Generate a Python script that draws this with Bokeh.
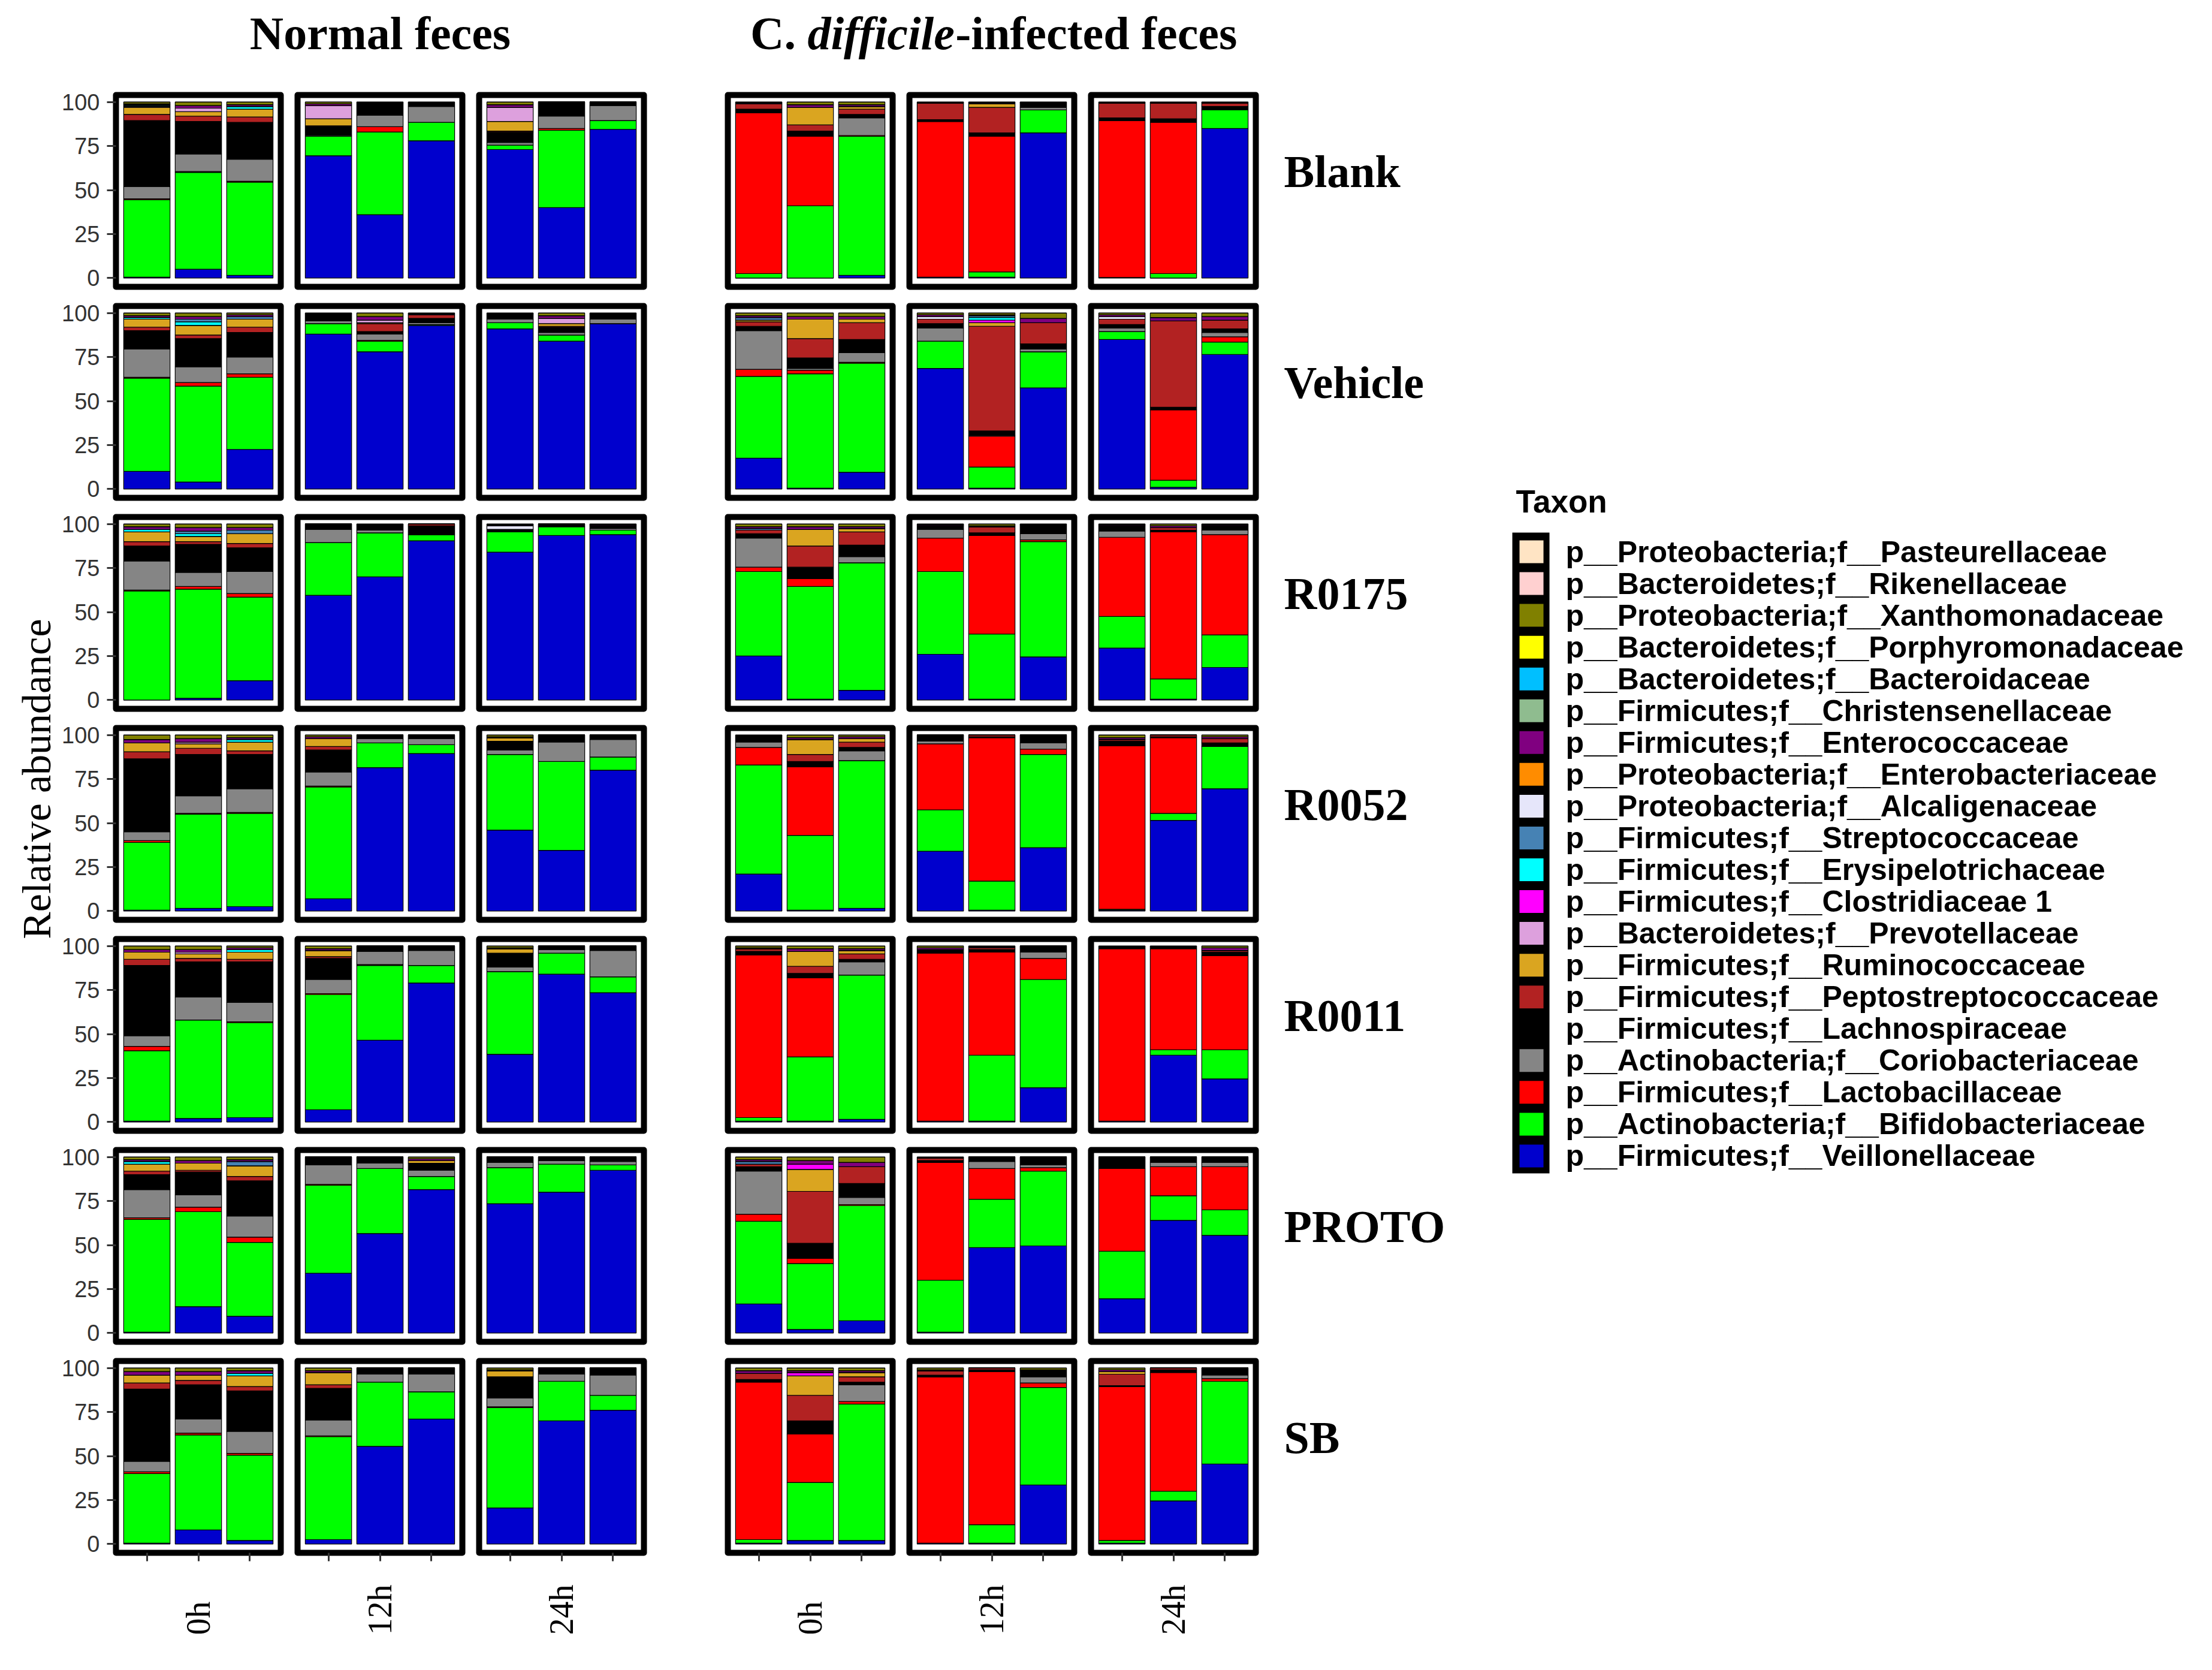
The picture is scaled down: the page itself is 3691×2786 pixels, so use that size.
import math
from bokeh.plotting import figure
from bokeh.layouts import row, column
from bokeh.models import ColumnDataSource, Range1d, FixedTicker, Spacer
from bokeh.embed import file_html
from bokeh.resources import INLINE
from bokeh.core.properties import value

# ---------------- labels ----------------
treatments = ["Blank", "Vehicle", "R0175", "R0052", "R0011", "PROTO", "SB"]
time_labels = ["0h", "12h", "24h"]
title_normal = "Normal feces"
title_cd_parts = ["C. ", "difficile", "-infected feces"]
y_title = "Relative abundance"
legend_title = "Taxon"
y_ticks = [0, 25, 50, 75, 100]

taxa = [
    "p__Proteobacteria;f__Pasteurellaceae",
    "p__Bacteroidetes;f__Rikenellaceae",
    "p__Proteobacteria;f__Xanthomonadaceae",
    "p__Bacteroidetes;f__Porphyromonadaceae",
    "p__Bacteroidetes;f__Bacteroidaceae",
    "p__Firmicutes;f__Christensenellaceae",
    "p__Firmicutes;f__Enterococcaceae",
    "p__Proteobacteria;f__Enterobacteriaceae",
    "p__Proteobacteria;f__Alcaligenaceae",
    "p__Firmicutes;f__Streptococcaceae",
    "p__Firmicutes;f__Erysipelotrichaceae",
    "p__Firmicutes;f__Clostridiaceae 1",
    "p__Bacteroidetes;f__Prevotellaceae",
    "p__Firmicutes;f__Ruminococcaceae",
    "p__Firmicutes;f__Peptostreptococcaceae",
    "p__Firmicutes;f__Lachnospiraceae",
    "p__Actinobacteria;f__Coriobacteriaceae",
    "p__Firmicutes;f__Lactobacillaceae",
    "p__Actinobacteria;f__Bifidobacteriaceae",
    "p__Firmicutes;f__Veillonellaceae",
]
taxa_colors = [
    "#FFE4C4", "#FFD0D0", "#808000", "#FFFF00", "#00BFFF",
    "#8FBC8F", "#800080", "#FF8C00", "#E6E6FA", "#4682B4",
    "#00FFFF", "#FF00FF", "#DDA0DD", "#DAA520", "#B22222",
    "#000000", "#858585", "#FF0000", "#00FF00", "#0000CD",
]

# ------------- data: one list per treatment row, 18 values each -------------
# order inside a row: Normal 0h(3 bars), 12h, 24h, C.diff 0h, 12h, 24h
veillonellaceae = [
    [0.5, 5, 1.5, 69.5, 36, 78, 73, 40, 84.5, 0, 0, 1.5, 0.5, 0.5, 82.5, 0.3, 0, 85],
    [10, 4, 22.5, 88, 78, 93, 91, 84, 94, 17.5, 0.5, 9.5, 68.5, 0.5, 57.5, 85, 1, 76.5],
    [0, 1, 11, 59.5, 70, 90.5, 84, 93.5, 94, 25, 0.5, 5.5, 26, 0.5, 24.5, 29.5, 0.5, 18.5],
    [0.5, 1.5, 2.5, 7, 81.5, 89.5, 46, 34.5, 80, 21, 0.5, 1.5, 34, 0.5, 36, 0.5, 51.5, 69.5],
    [0.5, 2, 2.5, 7, 46.5, 79, 38.5, 84, 73.5, 0.5, 0.5, 1.5, 0.5, 0.5, 19.5, 0.5, 38, 24.5],
    [0.5, 15, 9.5, 34, 56.5, 81.5, 73.5, 80, 92.5, 16.5, 2, 7, 0.5, 48.5, 49.5, 19.5, 64, 55.5],
    [0.5, 8, 2, 2.5, 55.5, 71, 20.5, 70, 76, 0.5, 2, 2, 0.5, 0.5, 33.5, 0.5, 24.5, 45.5],
]
bifidobacteriaceae = [
    [44, 55, 53, 11, 47, 10.5, 2.5, 44, 5, 2.5, 41, 79, 0, 3, 13, 0, 2.5, 10.5],
    [53, 54.5, 41, 6, 6, 0.5, 3.5, 3.5, 0, 46.5, 65, 62, 15.5, 12, 20.5, 4.5, 4, 7],
    [62, 62, 47.5, 30, 25, 3.5, 11.5, 5, 2.5, 48, 64, 72.5, 47, 37, 65.5, 18, 11.5, 18.5],
    [38.5, 53.5, 53, 63.5, 14, 5, 43, 50.5, 7.5, 62, 42.5, 84, 23.5, 16.5, 53, 0.5, 4, 24],
    [40, 56, 54, 65.5, 42.5, 10, 47, 12, 9, 2, 36.5, 82, 0, 37.5, 61.5, 0, 3, 16.5],
    [64, 54, 42, 50, 37, 7.5, 20.5, 16, 3, 47, 37.5, 65.5, 29.5, 27.5, 42.5, 27, 14, 14.5],
    [39.5, 54, 48.5, 58.5, 36.5, 15.5, 57, 22.5, 8.5, 2, 33, 77.5, 0, 10.5, 55.5, 1.5, 5.5, 47],
]
lactobacillaceae = [
    [0.5, 0.5, 0.5, 0, 3, 0, 0, 1, 0, 91.5, 39.5, 0.5, 88.5, 77, 0, 89.2, 86, 0],
    [0.5, 2, 2, 0, 0.5, 0, 0, 0, 0, 4, 2, 0.5, 0, 17.5, 0, 0, 40, 3],
    [0.5, 1.5, 2, 0, 0, 0, 0, 0, 0, 2.5, 4.5, 0, 19, 56, 1, 45, 83.5, 57],
    [1, 0.5, 0.5, 0.5, 0, 0, 0, 0, 0, 10, 39, 0, 37.5, 81.5, 3, 93, 43, 0],
    [2.5, 0, 0.5, 0.5, 0.5, 0, 0, 0, 0, 92.5, 45, 0, 95.5, 58.5, 12, 98, 57.5, 53.5],
    [1, 2.5, 3, 0.5, 0, 0, 0, 0, 0, 4, 3, 0.5, 67, 17.5, 2, 47, 16.5, 24.5],
    [1, 1, 1, 0.5, 0, 0, 0.5, 0, 0, 89.5, 27.5, 1.5, 94.5, 87, 2.5, 87.5, 67.5, 1.5],
]
coriobacteriaceae = [
    [7, 10, 12.5, 0.5, 6.5, 9, 1.5, 7, 8.5, 0, 0, 10, 0, 0, 1.5, 0, 0, 0],
    [16, 9, 9.5, 1.5, 3.5, 1, 2, 1.5, 2.5, 22, 1, 5.5, 7.5, 0.5, 1.5, 2, 0, 2.5],
    [16.5, 8, 12.5, 7.5, 1.5, 0, 0, 0, 1, 16.5, 0, 3.5, 5, 0, 3.5, 3.5, 0, 2.5],
    [5, 10, 13.5, 8, 2.5, 3.5, 2.5, 11, 10, 3, 0, 5.5, 1.5, 0, 3.5, 0, 0, 0],
    [6, 13, 11, 8, 7.5, 8.5, 2.5, 2, 15, 0, 0, 7.5, 0, 0, 3.5, 0, 0, 0],
    [16, 7, 12, 11, 3, 3.5, 3, 2, 2, 24.5, 0, 4, 0, 4, 1.5, 0, 2.5, 2.5],
    [6, 8, 12.5, 9, 4.5, 10, 5, 4, 11.5, 0, 0, 9.5, 0, 0, 3.5, 0, 0, 2],
]
lachnospiraceae = [
    [37.5, 18.5, 21, 5, 7, 2, 6, 8, 2, 2, 3, 2, 1, 2, 2.5, 1.5, 2, 2],
    [10.5, 16, 14, 4, 1.5, 2.5, 3, 3, 3, 2.5, 6, 7.5, 2.5, 2.5, 3, 2, 1.5, 2],
    [8.5, 16, 13.5, 3, 3, 5, 1.5, 1.5, 1.5, 2.5, 6.5, 6.5, 2, 1.5, 5, 3, 1, 2.5],
    [41.5, 23.5, 19.5, 12.5, 2, 2, 5, 4, 2.5, 3.5, 3, 2, 3.5, 0.5, 4.5, 2.5, 0.5, 2],
    [40, 20, 23, 12, 3, 2.5, 8, 2, 2.5, 2, 2.5, 1.5, 2, 1.5, 3.5, 1, 1, 2],
    [8.5, 13, 20, 4.5, 3.5, 4, 3, 2, 2.5, 2.5, 8.5, 8, 1, 2.5, 4.5, 6.5, 3, 3],
    [41, 19.5, 23, 18, 3.5, 3.5, 12, 3.5, 4, 1.5, 7.5, 1.5, 1, 1, 3.5, 0.5, 1.5, 4],
]
peptostreptococcaceae = [
    [3.5, 3, 3, 0.5, 0, 0, 0.5, 0, 0, 3, 3.5, 3, 9.5, 14.5, 0, 8.5, 9, 2],
    [2, 2, 3, 0, 4.5, 2, 0, 0.5, 0, 2.5, 11, 9.5, 2.5, 59.5, 12, 3, 49, 5],
    [2.5, 1.5, 2.5, 0, 0, 1, 0, 0, 0, 2, 12, 7.5, 0, 3.5, 0, 0, 1.5, 0],
    [4, 3.5, 2, 2, 0, 0, 0, 0, 0, 0, 4, 3, 0, 1, 0, 1, 1, 2.5],
    [3.5, 2, 1.5, 1, 0, 0, 0, 0, 0, 1.5, 4, 3, 0, 1, 0, 0, 0, 1],
    [2, 1, 2.5, 0, 0, 0, 0, 0, 0, 1.5, 29.5, 9.5, 1.5, 0, 0, 0, 0, 0],
    [3.5, 2.5, 2.5, 2, 0, 0, 0, 0, 0, 3.5, 14.5, 3, 2.5, 1, 0, 6.5, 1, 0],
]
ruminococcaceae = [
    [4, 2.5, 4.5, 4, 0, 0, 5.5, 0, 0, 0, 10, 1.5, 0, 2, 0, 0, 0, 0],
    [4.5, 5.5, 4.5, 0, 0.5, 0, 0, 1.5, 0, 1, 11, 2, 0, 2, 0, 0, 0, 0],
    [5.5, 3, 5.5, 0, 0, 0, 0, 0, 0, 0, 9.5, 2, 0, 0, 0, 0, 0, 0],
    [5, 2.5, 5, 4.5, 0, 0, 2, 0, 0, 0, 8.5, 2, 0, 0, 0, 0, 0, 0],
    [4, 2.5, 4, 3.5, 0, 0, 2.5, 0, 0, 0, 8.5, 2, 0, 0, 0, 0, 0, 0],
    [4, 4, 6, 0, 0, 1.5, 0, 0, 0, 0, 12.5, 0, 0, 0, 0, 0, 0, 0],
    [4.5, 3, 6, 7, 0, 0, 3.5, 0, 0, 0, 11, 2.5, 0, 0, 0, 1.5, 0, 0],
]
prevotellaceae = [
    [0.5, 2, 0, 7.5, 0, 0, 8, 0, 0, 0, 0, 0, 0, 0, 0, 0, 0, 0],
    [0, 0, 0, 0, 1.5, 0, 0, 3, 0, 0, 0, 0, 0, 0, 0, 0, 0, 0],
    [0, 0, 0, 0, 0, 0, 0, 0, 0, 0, 0, 0, 0, 0, 0, 0, 0, 0],
    [0, 1, 0, 0, 0, 0, 0, 0, 0, 0, 0, 0, 0, 0, 0, 0, 0, 0],
    [0, 1, 0, 0, 0, 0, 0, 0, 0, 0, 0, 0, 0, 0, 0, 0, 0, 0],
    [0, 0, 0, 0, 0, 0, 0, 0, 0, 0, 0, 0, 0, 0, 0, 0, 0, 0],
    [0, 0, 0, 0, 0, 0, 0, 0, 0, 0, 0, 0, 0, 0, 0, 0, 0, 0],
]
clostridiaceae_1 = [
    [0, 0, 0, 0, 0, 0, 0, 0, 0, 0, 0, 0, 0, 0, 0, 0, 0, 0],
    [0, 0, 0, 0, 0, 0, 0, 0, 0, 0, 0, 0, 0, 1.5, 0, 0, 0, 0],
    [0, 0, 0, 0, 0, 0, 0, 0, 0, 0, 0, 0, 0, 0, 0, 0, 0, 0],
    [0, 0, 0, 0, 0, 0, 0, 0, 0, 0, 0, 0, 0, 0, 0, 0, 0, 0],
    [0, 0, 0, 0, 0, 0, 0, 0, 0, 0, 0, 0, 0, 0, 0, 0, 0, 0],
    [0, 0, 0, 0, 0, 0, 0, 0, 0, 0, 3, 0, 0, 0, 0, 0, 0, 0],
    [0, 0, 0, 0, 0, 0, 0, 0, 0, 0, 2, 0, 0, 0, 0, 0, 0, 0],
]
erysipelotrichaceae = [
    [0.5, 0, 1.5, 0, 0, 0, 0, 0, 0, 0, 0, 0, 0, 0, 0, 0, 0, 0],
    [1, 2, 0, 0, 0, 0, 0, 0, 0, 0, 0, 0, 0, 1.5, 0, 0, 0, 0],
    [1.5, 1.5, 0, 0, 0, 0, 0, 0, 0, 0, 0, 0, 0, 0, 0, 0, 0, 0],
    [0, 0, 1.5, 0, 0, 0, 0, 0, 0, 0, 0, 0, 0, 0, 0, 0, 0, 0],
    [0, 0, 1.5, 0, 0, 0, 0, 0, 0, 0, 0, 0, 0, 0, 0, 0, 0, 0],
    [1.5, 0, 0, 0, 0, 0, 0, 0, 0, 0, 0, 0, 0, 0, 0, 0, 0, 0],
    [0, 0, 1.5, 0, 0, 0, 0, 0, 0, 0, 0, 0, 0, 0, 0, 0, 0, 0],
]
streptococcaceae = [
    [0.5, 0, 0, 0, 0, 0, 0, 0, 0, 0, 0, 0, 0, 0, 0, 0, 0, 0],
    [0, 1.5, 1.5, 0, 0, 0, 0, 0, 0, 1.5, 0, 0, 0, 1, 0, 0, 0, 0],
    [0, 1.5, 2, 0, 0, 0, 0, 0, 0, 1, 0, 0, 0, 0, 0, 0, 0, 0],
    [0, 0, 0, 0, 0, 0, 0, 0, 0, 0, 0, 0, 0, 0, 0, 0, 0, 0],
    [0, 0, 0, 0, 0, 0, 0, 0, 0, 0, 0, 0, 0, 0, 0, 0, 0, 0],
    [0, 0, 2.5, 0, 0, 0, 0, 0, 0, 1.5, 0, 0, 0, 0, 0, 0, 0, 0],
    [0, 0, 0, 0, 0, 0, 0, 0, 0, 0, 0, 0, 0, 0, 0, 0, 0, 0],
]
alcaligenaceae = [
    [0, 0, 0, 0, 0, 0, 0, 0, 0, 0, 0, 0, 0, 0, 0, 0, 0, 0],
    [0, 0, 0, 0, 0, 0, 0, 0, 0, 0, 0, 0, 1.5, 0, 0, 1.5, 0, 0],
    [0, 0, 0, 0, 0, 0, 2, 0, 0, 0, 0, 0, 0, 0, 0, 0, 0, 0],
    [0, 0, 0, 0, 0, 0, 0, 0, 0, 0, 0, 0, 0, 0, 0, 0, 0, 0],
    [0, 0, 0, 0, 0, 0, 0, 0, 0, 0, 0, 0, 0, 0, 0, 0, 0, 0],
    [0, 0, 0, 0, 0, 0, 0, 0, 0, 0, 0, 0, 0, 0, 0, 0, 0, 0],
    [0, 0, 0, 0, 0, 0, 0, 0, 0, 0, 0, 0, 0, 0, 0, 0, 0, 0],
]
xanthomonadaceae = [
    [1, 2, 1.5, 1, 0.5, 0.5, 1.5, 0, 0, 0.5, 1.5, 1.5, 0.5, 0.5, 0.5, 0.5, 0.5, 0.5],
    [1.5, 2, 1, 0.5, 2, 0.5, 0.5, 1.5, 0.5, 1.5, 2, 2, 1, 1, 3, 1, 2.5, 2],
    [1.5, 2, 2, 0, 0.5, 0, 0.5, 0, 0.5, 1.5, 1.5, 1.5, 0.5, 1, 0.5, 0.5, 1, 0.5],
    [2.5, 2, 1.5, 1, 0, 0, 1, 0, 0, 0.5, 1.5, 1, 0, 0, 0, 1.5, 0, 1],
    [2, 2, 1, 1.5, 0, 0, 1, 0, 0, 1, 1.5, 1.5, 1, 0.5, 0, 0.5, 0.5, 1],
    [1.5, 2, 1.5, 0, 0, 1, 0, 0, 0, 1.5, 2, 3, 0.5, 0, 0, 0, 0, 0],
    [2, 2, 1.5, 1.5, 0, 0, 1, 0, 0, 1.5, 1.5, 1.5, 1, 0, 1, 1, 0, 0],
]
enterococcaceae = [
    [0.5, 1.5, 1, 1, 0, 0, 1.5, 0, 0, 0.5, 1.5, 1, 0, 0.5, 0, 0, 0, 0],
    [1, 1.5, 1, 0, 2, 0.5, 0, 1.5, 0, 1, 1.5, 1.5, 1, 0.5, 2.5, 1, 2, 2],
    [1.5, 2, 1.5, 0, 0, 0, 0.5, 0, 0.5, 1, 1.5, 1, 0.5, 0.5, 0, 0.5, 1, 0.5],
    [2, 2, 1, 1, 0, 0, 0.5, 0, 0, 0, 1, 1, 0, 0, 0, 1, 0, 1],
    [1.5, 1.5, 1, 1, 0, 0, 0.5, 0, 0, 0.5, 1.5, 1, 1, 0.5, 0, 0, 0, 1.5],
    [1, 1.5, 1, 0, 0, 1, 0, 0, 0, 1, 2, 2.5, 0, 0, 0, 0, 0, 0],
    [2, 2, 1.5, 1, 0, 0, 0.5, 0, 0, 1.5, 1, 1, 0.5, 0, 0.5, 1, 0, 0],
]
zero_row = [0, 0, 0, 0, 0, 0, 0, 0, 0, 0, 0, 0, 0, 0, 0, 0, 0, 0]
pasteurellaceae = [zero_row] * 7
rikenellaceae = [zero_row] * 7
porphyromonadaceae = [zero_row] * 7
bacteroidaceae = [zero_row] * 7
christensenellaceae = [zero_row] * 7
enterobacteriaceae = [zero_row] * 7

taxon_values = [
    pasteurellaceae, rikenellaceae, xanthomonadaceae, porphyromonadaceae,
    bacteroidaceae, christensenellaceae, enterococcaceae, enterobacteriaceae,
    alcaligenaceae, streptococcaceae, erysipelotrichaceae, clostridiaceae_1,
    prevotellaceae, ruminococcaceae, peptostreptococcaceae, lachnospiraceae,
    coriobacteriaceae, lactobacillaceae, bifidobacteriaceae, veillonellaceae,
]

# stacking: bottom = last legend entry
stack_idx = list(range(len(taxa)))[::-1]
stackers = ["t%d" % k for k in stack_idx]
stack_colors = [taxa_colors[k] for k in stack_idx]

# ---------------- layout constants (pixels) ----------------
FRAME_W, FRAME_H = 275, 320
ROW_H = 352
GRID_TOP = 142
GRID_H = 6 * ROW_H + 376
YLAB_W = 100
COL0_LEFT = 93
RIGHT_X = 2109
RIGHT_W = 1574
TOTAL_W = 3683
TITLE_H = GRID_TOP
XLAB_H = 140

SERIF = value("Liberation Serif")
SANS = value("Liberation Sans")


def strip(w, h):
    p = figure(width=w, height=h, x_range=Range1d(0, w), y_range=Range1d(0, h),
               toolbar_location=None, output_backend="svg", title=None,
               x_axis_location=None, y_axis_location=None, min_border=0)
    p.outline_line_color = None
    p.grid.visible = False
    p.background_fill_color = "white"
    p.border_fill_color = "white"
    return p


def panel(r, c):
    first = c == 0
    last = r == len(treatments) - 1
    ml = COL0_LEFT if first else 14
    mr, mt = 14, 16
    mb = 40 if last else 16
    p = figure(width=ml + FRAME_W + mr, height=mt + FRAME_H + mb,
               x_range=Range1d(0.4, 3.6), y_range=Range1d(-5, 104),
               toolbar_location=None, output_backend="svg", title=None,
               x_axis_location="below" if last else None,
               y_axis_location="left" if first else None,
               min_border_left=ml, min_border_right=mr,
               min_border_top=mt, min_border_bottom=mb)
    p.grid.visible = False
    p.background_fill_color = "white"
    p.border_fill_color = "white"
    p.outline_line_color = "black"
    p.outline_line_width = 10
    p.outline_line_join = "round"

    data = {"x": [1, 2, 3]}
    for k in range(len(taxa)):
        data["t%d" % k] = taxon_values[k][r][c * 3:c * 3 + 3]
    src = ColumnDataSource(data)
    p.vbar_stack(stackers, x="x", width=0.9, fill_color=stack_colors,
                 source=src, line_color="black", line_width=1.2)

    if first:
        ax = p.yaxis[0]
        ax.ticker = FixedTicker(ticks=y_ticks)
        ax.axis_line_color = None
        ax.major_tick_in = 0
        ax.major_tick_out = 15
        ax.major_tick_line_color = "#333333"
        ax.major_tick_line_width = 3
        ax.minor_tick_line_color = None
        ax.major_label_text_font = "Liberation Sans"
        ax.major_label_text_font_size = "38px"
        ax.major_label_text_color = "#333333"
        ax.major_label_standoff = 12
    if last:
        ax = p.xaxis[0]
        ax.ticker = FixedTicker(ticks=[1, 2, 3])
        ax.axis_line_color = None
        ax.major_tick_in = 0
        ax.major_tick_out = 14
        ax.major_tick_line_color = "#333333"
        ax.major_tick_line_width = 3
        ax.minor_tick_line_color = None
        ax.major_label_overrides = {1: "", 2: "", 3: ""}
        ax.major_label_text_font_size = "1px"
    return p


# ---------------- title strip ----------------
title_fig = strip(TOTAL_W, TITLE_H)
fs = 78
title_fig.text(x=[634], y=[TITLE_H - 55], text=[title_normal], text_font=SERIF,
               text_font_style="bold", text_font_size=value("%dpx" % fs),
               text_align="center", text_baseline="middle", text_color="black")
part_em = [1.222, 3.166, 6.469]
part_style = ["bold", "bold italic", "bold"]
total = sum(part_em) * fs
x0 = 1675 - total / 2
for txt, em, sty in zip(title_cd_parts, part_em, part_style):
    title_fig.text(x=[x0], y=[TITLE_H - 55], text=[txt], text_font=SERIF,
                   text_font_style=sty, text_font_size=value("%dpx" % fs),
                   text_align="left", text_baseline="middle", text_color="black")
    x0 += em * fs

# ---------------- y label strip ----------------
ylab = strip(YLAB_W, GRID_H)
ylab.text(x=[60], y=[GRID_H - (1299 - GRID_TOP)], text=[y_title], angle=math.pi / 2,
          text_font=SERIF, text_font_size=value("68px"), text_align="center",
          text_baseline="middle", text_color="black")

# ---------------- x label strip ----------------
xlab = strip(TOTAL_W, XLAB_H)
centers = [330.5, 633.5, 936.5, 1351.5, 1654.5, 1957.5]
xlab.text(x=centers, y=[XLAB_H - (2727 - GRID_TOP - GRID_H)] * 6, text=time_labels * 2,
          angle=math.pi / 2, text_font=SERIF, text_font_size=value("56px"),
          text_align="left", text_baseline="middle", text_color="black")

# ---------------- right strip: row labels + legend ----------------
right = strip(RIGHT_W, GRID_H)
right.text(x=[2142 - RIGHT_X] * len(treatments),
           y=[GRID_H - (285 + ROW_H * i - GRID_TOP) for i in range(len(treatments))],
           text=treatments, text_font=SERIF, text_font_style="bold",
           text_font_size=value("76px"), text_align="left", text_baseline="middle",
           text_color="black")
right.text(x=[2529 - RIGHT_X], y=[GRID_H - (836 - GRID_TOP)], text=[legend_title],
           text_font=SANS, text_font_style="bold", text_font_size=value("53px"),
           text_align="left", text_baseline="middle", text_color="black")
right.rect(x=[2554 - RIGHT_X], y=[GRID_H - (1422.5 - GRID_TOP)], width=62, height=1069,
           fill_color="black", line_color=None)
ly = [GRID_H - (920 + 53.05 * k - GRID_TOP) for k in range(len(taxa))]
right.rect(x=[2555 - RIGHT_X] * len(taxa), y=ly, width=40, height=38,
           fill_color=taxa_colors, line_color=None)
right.text(x=[2612 - RIGHT_X] * len(taxa), y=ly, text=taxa, text_font=SANS,
           text_font_style="bold", text_font_size=value("50px"), text_align="left",
           text_baseline="middle", text_color="black")

# ---------------- assemble ----------------
cols = [column(*[panel(r, c) for r in range(len(treatments))], spacing=0) for c in range(6)]
mid = row(ylab, cols[0], cols[1], cols[2], Spacer(width=112, height=GRID_H),
          cols[3], cols[4], cols[5], right, spacing=0)
layout = column(title_fig, mid, xlab, spacing=0)

open("out.html", "w").write(file_html(layout, INLINE))
